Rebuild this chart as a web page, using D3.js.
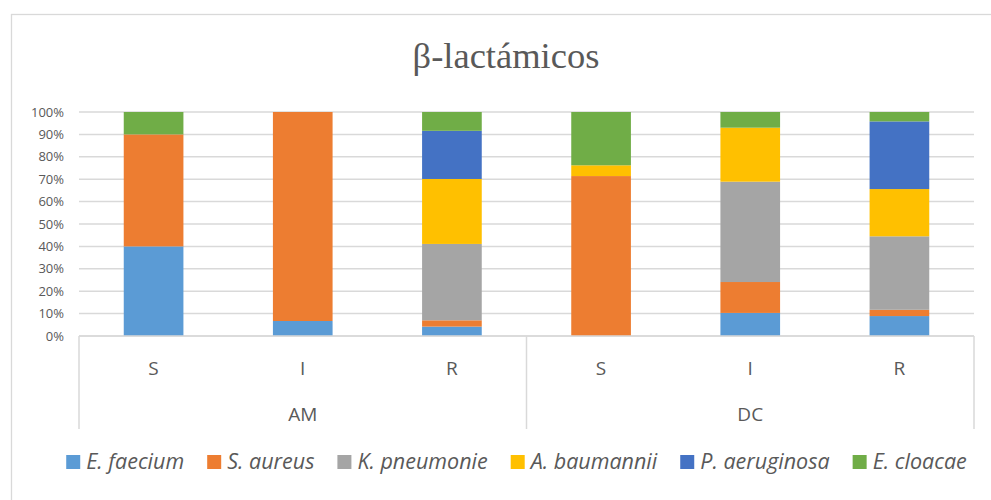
<!DOCTYPE html>
<html>
<head>
<meta charset="utf-8">
<script src="https://cdn.jsdelivr.net/npm/d3@7"></script>
<style>
  html, body { margin: 0; padding: 0; background: #fff; }
  svg { display: block; }
</style>
</head>
<body>
<svg id="chart" width="991" height="500"></svg>
<script>
// Groups (outer axis level) and resistance status (inner axis level)
const groups = ["AM", "DC"];
const statuses = ["S", "I", "R"];

// Species shown in the stacks, bottom to top
const species = ["E. faecium", "S. aureus", "K. pneumonie", "A. baumannii", "P. aeruginosa", "E. cloacae"];
const colors = ["#5B9BD5", "#ED7D31", "#A5A5A5", "#FFC000", "#4472C4", "#70AD47"];

// Percent share per bar, in order AM-S, AM-I, AM-R, DC-S, DC-I, DC-R
const eFaecium    = [40, 6.7, 4.2, 0, 10.3, 8.9];
const sAureus     = [50, 93.3, 2.8, 71.4, 13.8, 2.8];
const kPneumonie  = [0, 0, 34.1, 0, 44.8, 32.8];
const aBaumannii  = [0, 0, 29.0, 4.8, 24.1, 21.1];
const pAeruginosa = [0, 0, 21.5, 0, 0, 30.2];
const eCloacae    = [10, 0, 8.4, 23.8, 7.0, 4.2];

const yTicks = [0, 0.1, 0.2, 0.3, 0.4, 0.5, 0.6, 0.7, 0.8, 0.9, 1.0];

const seriesValues = [eFaecium, sAureus, kPneumonie, aBaumannii, pAeruginosa, eCloacae];

// Build one row per bar
const rows = [];
groups.forEach((g, gi) => {
  statuses.forEach((s, si) => {
    const idx = gi * statuses.length + si;
    const row = { key: g + "|" + s, group: g, status: s };
    species.forEach((sp, k) => { row[sp] = seriesValues[k][idx]; });
    rows.push(row);
  });
});

const svg = d3.select("#chart");
const textColor = "#595959";
const lineColor = "#D9D9D9";

// Outer chart frame
svg.append("rect")
  .attr("x", 11.5).attr("y", 14.5)
  .attr("width", 1000).attr("height", 500)
  .attr("fill", "none").attr("stroke", lineColor).attr("stroke-width", 1.3);

// Title
svg.append("text")
  .attr("x", 506).attr("y", 68)
  .attr("text-anchor", "middle")
  .attr("font-family", "'Liberation Serif', 'Times New Roman', serif")
  .attr("font-size", 36.5)
  .attr("fill", textColor)
  .text("β-lactámicos");

const plot = { left: 79, right: 974, top: 112, bottom: 336 };

const x = d3.scaleBand()
  .domain(rows.map(d => d.key))
  .range([plot.left, plot.right])
  .paddingInner(0.6)
  .paddingOuter(0.3);

const y = d3.scaleLinear()
  .domain([0, 1])
  .range([plot.bottom, plot.top]);

// Horizontal gridlines
svg.append("g")
  .selectAll("line")
  .data(yTicks)
  .join("line")
  .attr("x1", plot.left).attr("x2", plot.right)
  .attr("y1", d => y(d)).attr("y2", d => y(d))
  .attr("stroke", lineColor).attr("stroke-width", 1.5);

// Y axis labels
const yAxis = d3.axisLeft(y)
  .tickValues(yTicks)
  .tickFormat(d3.format(".0%"))
  .tickSize(0)
  .tickPadding(0);

const yg = svg.append("g")
  .attr("transform", `translate(${plot.left - 15},0)`)
  .call(yAxis);
yg.select(".domain").remove();
yg.selectAll("text")
  .attr("font-family", "'Open Sans', sans-serif")
  .attr("font-size", 13)
  .attr("fill", textColor);

// Stacked bars
const stack = d3.stack().keys(species).offset(d3.stackOffsetExpand);
const layers = stack(rows);

svg.append("g")
  .selectAll("g")
  .data(layers)
  .join("g")
  .attr("fill", (d, i) => colors[i])
  .selectAll("rect")
  .data(d => d.filter(p => p[1] - p[0] > 0))
  .join("rect")
  .attr("x", d => x(d.data.key))
  .attr("width", x.bandwidth())
  .attr("y", d => y(d[1]))
  .attr("height", d => y(d[0]) - y(d[1]));

// Multi-level category axis
const axisBottom = 429;
const axisG = svg.append("g")
  .attr("stroke", lineColor).attr("stroke-width", 1.5);
axisG.append("line")
  .attr("x1", plot.left).attr("x2", plot.right)
  .attr("y1", plot.bottom).attr("y2", plot.bottom);

// Group separators
const groupEdges = [x(rows[0].key) - x.step() * x.paddingOuter()];
groups.forEach((g, gi) => {
  const lastKey = rows[gi * statuses.length + statuses.length - 1].key;
  groupEdges.push(x(lastKey) + x.bandwidth() + x.step() * (gi === groups.length - 1 ? x.paddingOuter() : x.paddingInner() / 2));
});
axisG.selectAll("line.sep")
  .data(groupEdges)
  .join("line")
  .attr("class", "sep")
  .attr("x1", d => d).attr("x2", d => d)
  .attr("y1", plot.bottom).attr("y2", axisBottom);

// Inner labels (S / I / R)
svg.append("g")
  .selectAll("text")
  .data(rows)
  .join("text")
  .attr("x", d => x(d.key) + x.bandwidth() / 2)
  .attr("y", 375)
  .attr("text-anchor", "middle")
  .attr("font-family", "'Open Sans', sans-serif")
  .attr("font-size", 19)
  .attr("fill", textColor)
  .text(d => d.status);

// Outer labels (AM / DC)
svg.append("g")
  .selectAll("text")
  .data(groups)
  .join("text")
  .attr("x", (g, gi) => (groupEdges[gi] + groupEdges[gi + 1]) / 2)
  .attr("y", 421)
  .attr("text-anchor", "middle")
  .attr("font-family", "'Open Sans', sans-serif")
  .attr("font-size", 19)
  .attr("fill", textColor)
  .text(d => d);

// Legend
const legend = svg.append("g");
const swatch = 14, swGap = 6, itemGap = 23;
const items = legend.selectAll("g")
  .data(species)
  .join("g");
items.append("rect")
  .attr("width", swatch).attr("height", swatch)
  .attr("y", -14)
  .attr("fill", (d, i) => colors[i]);
items.append("text")
  .attr("x", swatch + swGap)
  .attr("y", 0)
  .attr("font-family", "'Open Sans', sans-serif")
  .attr("font-style", "italic")
  .attr("font-size", 21.5)
  .attr("fill", textColor)
  .text(d => d);

let cursor = 0;
const offsets = [];
items.each(function () {
  offsets.push(cursor);
  const w = this.querySelector("text").getComputedTextLength();
  cursor += swatch + swGap + w + itemGap;
});
const totalW = cursor - itemGap;
const startX = (63 + 970) / 2 - totalW / 2;
items.attr("transform", (d, i) => `translate(${startX + offsets[i]},469)`);
</script>
</body>
</html>
